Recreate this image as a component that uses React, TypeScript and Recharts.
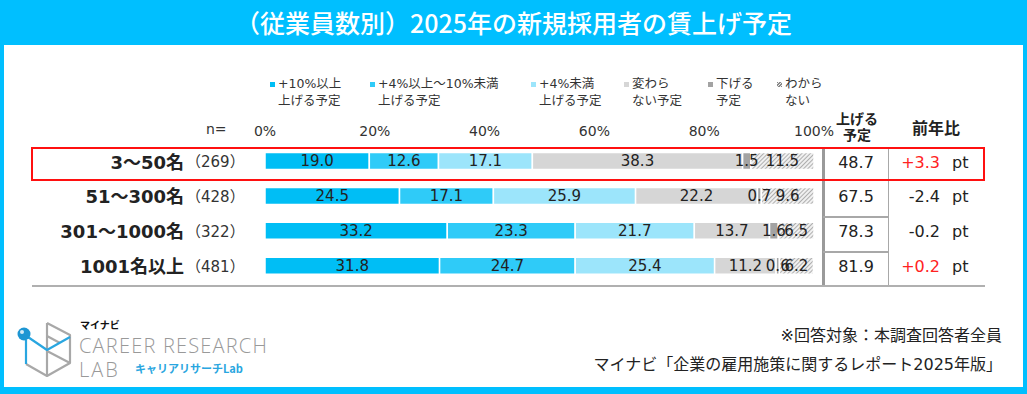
import React from 'react';
import { BarChart, Bar, XAxis, YAxis, LabelList } from 'recharts';

// ---------- data ----------
const categories = ['3～50名', '51～300名', '301～1000名', '1001名以上'];
const sampleSizes = [269, 428, 322, 481];
const up10 = [19.0, 24.5, 33.2, 31.8];
const up4to10 = [12.6, 17.1, 23.3, 24.7];
const upUnder4 = [17.1, 25.9, 21.7, 25.4];
const noChange = [38.3, 22.2, 13.7, 11.2];
const down = [1.5, 0.7, 1.6, 0.6];
const unknown = [11.5, 9.6, 6.5, 6.2];
const raiseTotal = [48.7, 67.5, 78.3, 81.9];
const yoyChange = [3.3, -2.4, -0.2, 0.2];
const tickValues = [0, 20, 40, 60, 80, 100];
const seriesKeys = ['up10', 'up4to10', 'upUnder4', 'noChange', 'down', 'unknown'];
const seriesLabels = [
  ['+10%以上', '上げる予定'],
  ['+4%以上～10%未満', '上げる予定'],
  ['+4%未満', '上げる予定'],
  ['変わら', 'ない予定'],
  ['下げる', '予定'],
  ['わから', 'ない'],
];

// ---------- styles ----------
const BLUE = '#00BFFF';
const seriesFills = ['#00BEF5', '#2FCBF8', '#9CE5FB', '#D6D6D6', '#A3A3A3', 'url(#hatch)'];
const legendSwatch = ['#00BEF5', '#2FCBF8', '#9CE5FB', '#D6D6D6', '#A3A3A3', 'hatch'];
const legendX = [270, 370, 531, 624, 708, 777];
const NUM_FONT = '"DejaVu Sans", "Noto Sans CJK JP", sans-serif';
const JP_FONT = '"Noto Sans CJK JP", sans-serif';

const rows = categories.map((name, i) => ({
  name,
  up10: up10[i],
  up4to10: up4to10[i],
  upUnder4: upUnder4[i],
  noChange: noChange[i],
  down: down[i],
  unknown: unknown[i],
}));

const RowTick = (props: any) => {
  const { y, payload } = props;
  const i = categories.indexOf(payload.value);
  const yoy = yoyChange[i];
  const yoyText = (yoy > 0 ? '+' : '') + yoy.toFixed(1);
  return (
    <g>
      <text x={184} y={y + 1} textAnchor="end" dominantBaseline="central" fontSize={18} fontWeight="bold" fill="#222" fontFamily={NUM_FONT}>
        {payload.value}
      </text>
      <text x={186} y={y + 1} textAnchor="start" dominantBaseline="central" fontSize={15} fill="#333" fontFamily={NUM_FONT}>
        {`（${sampleSizes[i]}）`}
      </text>
      <text x={856} y={y + 1} textAnchor="middle" dominantBaseline="central" fontSize={16} fill="#222" fontFamily={NUM_FONT}>
        {raiseTotal[i].toFixed(1)}
      </text>
      <text x={940} y={y + 1} textAnchor="end" dominantBaseline="central" fontSize={16} fill={yoy > 0 ? '#FF2222' : '#222'} fontFamily={NUM_FONT}>
        {yoyText}
      </text>
      <text x={952} y={y + 1} textAnchor="start" dominantBaseline="central" fontSize={16} fill="#222" fontFamily={NUM_FONT}>
        pt
      </text>
    </g>
  );
};

const Logo = () => (
  <svg width={80} height={70} style={{ position: 'absolute', left: 10, top: 315 }} viewBox="10 315 80 70">
    <g fill="none" strokeWidth={2.2} strokeLinejoin="round">
      <path d="M47,323 L70,335 L70,363 L47,376 L26,364" stroke="#A8A8A8" />
      <path d="M47,323 L47,376" stroke="#A8A8A8" />
      <path d="M47,351 L70,363" stroke="#A8A8A8" />
      <path d="M47,336 L60,343" stroke="#A8A8A8" />
      <path d="M25,335 L47,350 L70,337" stroke="#29A6E0" />
      <path d="M26,340 L26,364" stroke="#29A6E0" />
    </g>
    <circle cx={24} cy={334} r={6.5} fill="#1E96D3" />
    <circle cx={22} cy={332} r={2} fill="#fff" opacity={0.8} />
  </svg>
);

export default function App() {
  return (
    <div style={{ position: 'absolute', left: 0, top: 0, width: 1027, height: 394, background: BLUE, overflow: 'hidden' }}>
      <div style={{ position: 'absolute', left: 4, top: 45, width: 1019, height: 342, background: '#fff' }} />
      <div style={{ position: 'absolute', left: 0, top: 0, width: 1027, height: 45, lineHeight: '45px', textAlign: 'center', color: '#fff', fontSize: 25, fontWeight: 500, fontFamily: JP_FONT }}>
        （従業員数別）2025年の新規採用者の賃上げ予定
      </div>

      {/* legend */}
      {seriesLabels.map((lab, i) => (
        <div key={i} style={{ position: 'absolute', left: legendX[i], top: 75, fontSize: 12.5, lineHeight: '17px', color: '#333', fontFamily: NUM_FONT, whiteSpace: 'nowrap' }}>
          <div>
            <span style={{
              display: 'inline-block', width: 5, height: 5, marginRight: 3, verticalAlign: 'middle',
              background: legendSwatch[i] === 'hatch' ? 'repeating-linear-gradient(135deg,#888 0 1px,#eee 1px 2px)' : legendSwatch[i],
            }} />
            {lab[0]}
          </div>
          <div style={{ paddingLeft: 8 }}>{lab[1]}</div>
        </div>
      ))}

      <div style={{ position: 'absolute', left: 0, top: 0 }}>
        <BarChart width={1027} height={394} data={rows} layout="vertical" barSize={17}
          margin={{ top: 113.6, right: 213, bottom: 111, left: 0 }}>
          <defs>
            <pattern id="hatch" patternUnits="userSpaceOnUse" width={3} height={3} patternTransform="rotate(45)">
              <rect width={3} height={3} fill="#F0F0F0" />
              <line x1={0} y1={0} x2={0} y2={3} stroke="#8A8A8A" strokeWidth={1.3} />
            </pattern>
          </defs>
          <XAxis type="number" orientation="top" height={30} domain={[0, 100]} ticks={tickValues} axisLine={false} tickLine={false}
            tickFormatter={(v: number) => `${v}%`} tick={{ fontSize: 14, fill: '#333', fontFamily: NUM_FONT }} interval={0} />
          <YAxis type="category" dataKey="name" width={265} axisLine={false} tickLine={false} tick={<RowTick />} interval={0} />
          {seriesKeys.map((k, i) => (
            <Bar key={k} dataKey={k} stackId="a" fill={seriesFills[i]} stroke="#fff" strokeWidth={1.5} isAnimationActive={false}>
              <LabelList dataKey={k} position="center" formatter={(v: any) => Number(v).toFixed(1)}
                style={{ fontSize: 15, fill: '#222', fontFamily: NUM_FONT }} />
            </Bar>
          ))}
        </BarChart>
      </div>

      {/* header texts */}
      <div style={{ position: 'absolute', left: 206, top: 121, fontSize: 14, color: '#333', fontFamily: NUM_FONT }}>n=</div>
      <div style={{ position: 'absolute', left: 827, width: 60, top: 110, fontSize: 14, lineHeight: '16px', fontWeight: 'bold', color: '#222', textAlign: 'center', fontFamily: JP_FONT }}>
        上げる<br />予定
      </div>
      <div style={{ position: 'absolute', left: 890, width: 92, top: 115, fontSize: 16, fontWeight: 'bold', color: '#222', textAlign: 'center', fontFamily: JP_FONT }}>
        前年比
      </div>

      {/* table lines */}
      <div style={{ position: 'absolute', left: 822, top: 147, width: 2.5, height: 139, background: '#9A9A9A' }} />
      <div style={{ position: 'absolute', left: 887.5, top: 147, width: 1.5, height: 139, background: '#A8A8A8' }} />
      <div style={{ position: 'absolute', left: 823, top: 216, width: 65, height: 1.5, background: '#A8A8A8' }} />
      <div style={{ position: 'absolute', left: 823, top: 251, width: 65, height: 1.5, background: '#A8A8A8' }} />
      <div style={{ position: 'absolute', left: 32, top: 285, width: 953, height: 1.5, background: '#B0B0B0' }} />
      <div style={{ position: 'absolute', left: 31, top: 147, width: 954, height: 34, border: '2px solid #FF1010', boxSizing: 'border-box' }} />

      {/* logo */}
      <Logo />
      <div style={{ position: 'absolute', left: 80, top: 319, fontSize: 10, fontWeight: 'bold', color: '#111', fontFamily: JP_FONT, lineHeight: '12px' }}>マイナビ</div>
      <div style={{ position: 'absolute', left: 79, top: 336, fontSize: 20, fontWeight: 300, color: '#999', fontFamily: '"Open Sans", sans-serif', lineHeight: '20px', letterSpacing: 1.2 }}>CAREER RESEARCH</div>
      <div style={{ position: 'absolute', left: 79, top: 360, fontSize: 20, fontWeight: 300, color: '#999', fontFamily: '"Open Sans", sans-serif', lineHeight: '20px', letterSpacing: 2 }}>LAB</div>
      <div style={{ position: 'absolute', left: 135, top: 362, fontSize: 11, fontWeight: 'bold', color: '#29A6E0', fontFamily: JP_FONT, lineHeight: '13px' }}>キャリアリサーチLab</div>

      {/* footer */}
      <div style={{ position: 'absolute', right: 25, top: 325, fontSize: 16, color: '#222', fontFamily: NUM_FONT, lineHeight: '22px', textAlign: 'right' }}>※回答対象：本調査回答者全員</div>
      <div style={{ position: 'absolute', right: 25, top: 354, fontSize: 16, color: '#222', fontFamily: NUM_FONT, lineHeight: '22px', textAlign: 'right', whiteSpace: 'nowrap' }}>マイナビ「企業の雇用施策に関するレポート2025年版」</div>
    </div>
  );
}
